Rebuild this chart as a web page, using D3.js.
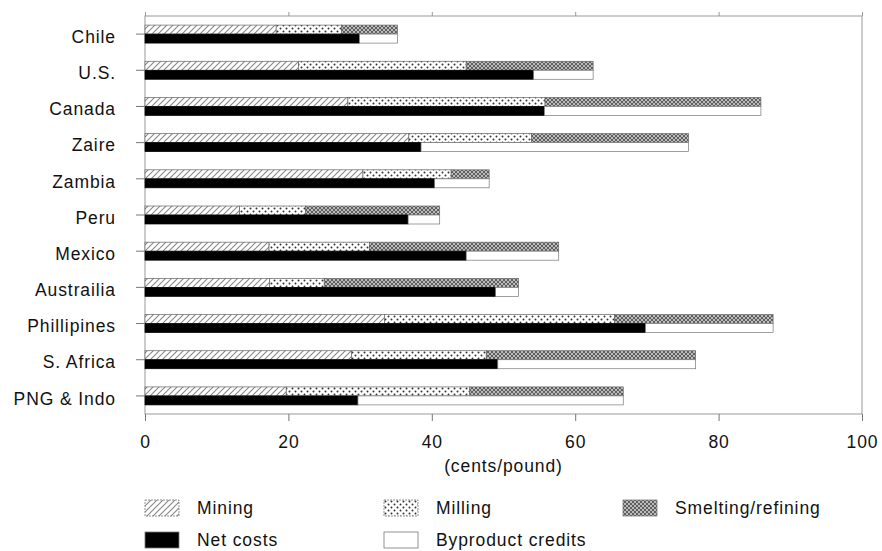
<!DOCTYPE html>
<html>
<head>
<meta charset="utf-8">
<script src="https://cdn.jsdelivr.net/npm/d3@7"></script>
<style>
  html, body { margin: 0; padding: 0; background: #fff; }
  svg { display: block; font-family: "Liberation Sans", Arial, Helvetica, sans-serif; }
</style>
</head>
<body>
<svg id="chart" width="882" height="551"></svg>
<script>
const categories = ["Chile", "U.S.", "Canada", "Zaire", "Zambia", "Peru", "Mexico", "Austrailia", "Phillipines", "S. Africa", "PNG & Indo"];
const mining    = [18.3, 21.4, 28.3, 36.8, 30.4, 13.2, 17.3, 17.4, 33.4, 28.8, 19.7];
const milling   = [ 9.1, 23.4, 27.5, 17.1, 12.3,  9.2, 14.0,  7.6, 32.1, 18.8, 25.6];
const smelting  = [ 7.8, 17.7, 30.1, 21.9,  5.3, 18.7, 26.4, 27.1, 22.1, 29.2, 21.4];
const netCosts  = [29.9, 54.2, 55.7, 38.5, 40.4, 36.7, 44.8, 48.9, 69.8, 49.2, 29.7];
const byproduct = [ 5.3,  8.3, 30.2, 37.3,  7.6,  4.4, 12.9,  3.2, 17.8, 27.6, 37.0];
const xTicks = [0, 20, 40, 60, 80, 100];
const xLabel = "(cents/pound)";
const legendLabels = ["Mining", "Milling", "Smelting/refining", "Net costs", "Byproduct credits"];

const svg = d3.select("#chart");
const margin = {left: 145, right: 882 - 862, top: 16, bottom: 551 - 414};
const W = 882, H = 551;
const FS = 17.5, LS = "0.9px";
const x = d3.scaleLinear().domain([0, 100]).range([margin.left, W - margin.right]);
const y = d3.scaleBand().domain(categories).range([margin.top, H - margin.bottom]).paddingInner(0).paddingOuter(0);

// patterns
const defs = svg.append("defs");
const pMining = defs.append("pattern").attr("id", "pMining").attr("patternUnits", "userSpaceOnUse")
  .attr("width", 6).attr("height", 6);
pMining.append("rect").attr("width", 6).attr("height", 6).attr("fill", "#fff");
pMining.append("path").attr("d", "M0,6 L6,0 M-1,1 L1,-1 M5,7 L7,5").attr("stroke", "#888").attr("stroke-width", 1.1);

const pMilling = defs.append("pattern").attr("id", "pMilling").attr("patternUnits", "userSpaceOnUse")
  .attr("width", 6).attr("height", 6);
pMilling.append("rect").attr("width", 6).attr("height", 6).attr("fill", "#fff");
pMilling.append("circle").attr("cx", 1.5).attr("cy", 1.5).attr("r", 1).attr("fill", "#333");
pMilling.append("circle").attr("cx", 4.5).attr("cy", 4.5).attr("r", 1).attr("fill", "#333");

const pSmelt = defs.append("pattern").attr("id", "pSmelt").attr("patternUnits", "userSpaceOnUse")
  .attr("width", 4).attr("height", 4);
pSmelt.append("rect").attr("width", 4).attr("height", 4).attr("fill", "#bbb");
pSmelt.append("path").attr("d", "M0,4 L4,0 M0,0 L4,4").attr("stroke", "#555").attr("stroke-width", 0.9);

const fills = ["url(#pMining)", "url(#pMilling)", "url(#pSmelt)", "#000", "#fff"];

// frame
svg.append("rect").attr("x", x(0)).attr("y", margin.top)
  .attr("width", x(100) - x(0)).attr("height", (H - margin.bottom) - margin.top)
  .attr("fill", "none").attr("stroke", "#999").attr("stroke-width", 1);

// bars
const barH = 9;
const topStack = categories.map((c, i) => {
  const vals = [mining[i], milling[i], smelting[i]];
  let s = 0;
  return vals.map((v, k) => { const r = {c, k, x0: s, x1: s + v}; s += v; return r; });
}).flat();
const botStack = categories.map((c, i) => {
  const vals = [netCosts[i], byproduct[i]];
  let s = 0;
  return vals.map((v, k) => { const r = {c, k: k + 3, x0: s, x1: s + v}; s += v; return r; });
}).flat();

const center = c => y(c) + y.bandwidth() / 2;
svg.append("g").selectAll("rect").data(topStack).join("rect")
  .attr("x", d => x(d.x0)).attr("width", d => x(d.x1) - x(d.x0))
  .attr("y", d => center(d.c) - barH).attr("height", barH)
  .attr("fill", d => fills[d.k]).attr("stroke", "#666").attr("stroke-width", 0.7);
svg.append("g").selectAll("rect").data(botStack).join("rect")
  .attr("x", d => x(d.x0)).attr("width", d => x(d.x1) - x(d.x0))
  .attr("y", d => center(d.c)).attr("height", barH)
  .attr("fill", d => fills[d.k]).attr("stroke", d => d.k === 3 ? "#000" : "#777").attr("stroke-width", 0.7);

// axes
const xAxis = svg.append("g").attr("transform", `translate(0,${H - margin.bottom})`)
  .call(d3.axisBottom(x).tickValues(xTicks).tickSize(7).tickPadding(15).tickFormat(d3.format("d")));
xAxis.select(".domain").remove();
xAxis.selectAll("line").attr("stroke", "#777");
xAxis.selectAll("text").attr("font-size", FS).attr("letter-spacing", LS).attr("fill", "#111");

const xTop = svg.append("g").attr("transform", `translate(0,${margin.top})`)
  .call(d3.axisTop(x).tickValues(xTicks).tickSize(4).tickFormat(""));
xTop.select(".domain").remove();
xTop.selectAll("line").attr("stroke", "#999");

const yAxis = svg.append("g").attr("transform", `translate(${margin.left},0)`)
  .call(d3.axisLeft(y).tickSize(9).tickPadding(20));
yAxis.select(".domain").remove();
yAxis.selectAll("line").attr("stroke", "#777");
yAxis.selectAll("text").attr("font-size", FS).attr("letter-spacing", LS).attr("fill", "#111").attr("dy", "0.5em");

svg.append("text").attr("x", (x(0) + x(100)) / 2).attr("y", 472)
  .attr("text-anchor", "middle").attr("font-size", FS).attr("letter-spacing", LS).attr("fill", "#111").text(xLabel);

// legend
const legPos = [[145, 500], [384, 500], [623, 500], [145, 532], [384, 532]];
const leg = svg.append("g").selectAll("g").data(legendLabels).join("g")
  .attr("transform", (d, i) => `translate(${legPos[i][0]},${legPos[i][1]})`);
leg.append("rect").attr("width", 34).attr("height", 16)
  .attr("fill", (d, i) => fills[i]).attr("stroke", "#777").attr("stroke-width", 0.8)
  .attr("stroke-dasharray", (d, i) => i < 2 ? "2,1" : null);
leg.append("text").attr("x", 52).attr("y", 14).attr("font-size", FS).attr("letter-spacing", LS).attr("fill", "#111").text(d => d);
</script>
</body>
</html>
